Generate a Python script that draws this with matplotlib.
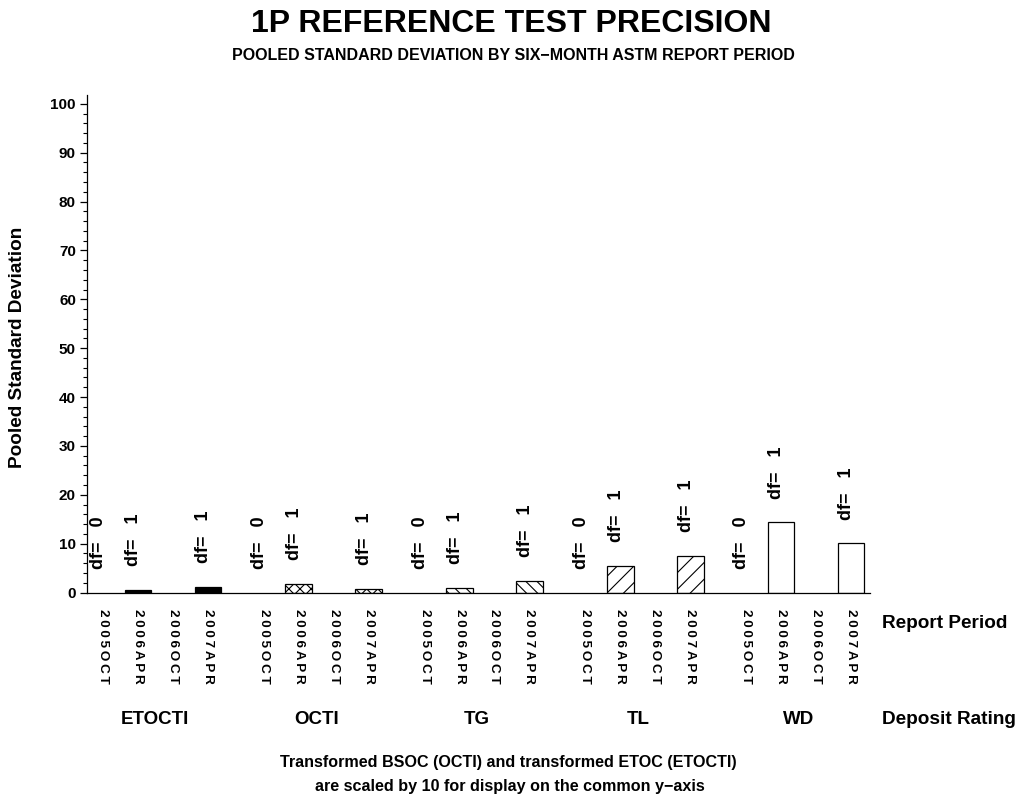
import numpy as np
import matplotlib
matplotlib.use("Agg")
import matplotlib.pyplot as plt
from matplotlib.ticker import MultipleLocator
import matplotlib.transforms as mtransforms

plt.rcParams['font.family'] = ['Liberation Sans', 'DejaVu Sans']
plt.rcParams['hatch.linewidth'] = 0.8

groups = ['ETOCTI', 'OCTI', 'TG', 'TL', 'WD']
periods = ['2005OCT', '2006APR', '2006OCT', '2007APR']
nan = np.nan
values = {
    'ETOCTI': [nan, 0.6, nan, 1.2],
    'OCTI':   [nan, 1.8, nan, 0.7],
    'TG':     [nan, 0.9, nan, 2.4],
    'TL':     [nan, 5.4, nan, 7.5],
    'WD':     [nan, 14.4, nan, 10.1],
}
dfs = {
    'ETOCTI': [0, 1, None, 1],
    'OCTI':   [0, 1, None, 1],
    'TG':     [0, 1, None, 1],
    'TL':     [0, 1, None, 1],
    'WD':     [0, 1, None, 1],
}
hatches = {'ETOCTI': None, 'OCTI': 'xxx', 'TG': '\\\\\\', 'TL': '//', 'WD': None}
faces = {'ETOCTI': 'black', 'OCTI': 'white', 'TG': 'white', 'TL': 'white', 'WD': 'white'}

W, H = 1023, 797
fig = plt.figure(figsize=(W / 100, H / 100), dpi=100)
ax = fig.add_axes([87 / W, 1 - 592.5 / H, (870 - 87) / W, (592.5 - 95) / H])

G = 4.6
tick_pos, tick_lab = [], []
for j, g in enumerate(groups):
    for i, p in enumerate(periods):
        x = j * G + i
        tick_pos.append(x)
        tick_lab.append('\u2009'.join(p))
        v = values[g][i]
        h = 0 if np.isnan(v) else v
        if not np.isnan(v):
            ax.bar(x, v, width=0.76, color=faces[g], edgecolor='black',
                   linewidth=0.9, hatch=hatches[g], zorder=2)
        d = dfs[g][i]
        if d is not None:
            ax.annotate(f'df=   {d}', xy=(x, h), xytext=(-3, 17),
                        textcoords='offset points', rotation=90,
                        ha='center', va='bottom', fontsize=13,
                        fontweight='bold')

ax.set_xlim(-0.457, 3 + 4 * G + 0.543)
ax.set_ylim(0, 101.8)
ax.yaxis.set_major_locator(MultipleLocator(10))
ax.yaxis.set_minor_locator(MultipleLocator(2))
ax.set_yticks(np.arange(0, 101, 10))
ax.tick_params(axis='y', which='major', length=5, width=0.9, pad=3,
               labelsize=11)
ax.tick_params(axis='y', which='minor', length=3, width=0.8)
for lab in ax.get_yticklabels():
    lab.set_fontweight('bold')
ax.set_xticks(tick_pos)
ax.set_xticklabels(tick_lab, rotation=270, fontsize=9.7, fontweight='bold',
                   va='top', ha='center')
ax.tick_params(axis='x', length=0, pad=12)
for s in ['top', 'right']:
    ax.spines[s].set_visible(False)
ax.spines['left'].set_linewidth(0.9)
ax.spines['bottom'].set_linewidth(0.9)

trans = mtransforms.blended_transform_factory(ax.transData, fig.transFigure)
for j, g in enumerate(groups):
    ax.text(j * G + 1.5, 1 - 720 / H, g, transform=trans, ha='center',
            va='center', fontsize=13.5, fontweight='bold')

fig.text(882 / W, 1 - 623 / H, 'Report Period', ha='left', va='center',
         fontsize=13.7, fontweight='bold')
fig.text(882 / W, 1 - 720 / H, 'Deposit Rating', ha='left', va='center',
         fontsize=13.7, fontweight='bold')
fig.text(18 / W, 1 - 347 / H, 'Pooled Standard Deviation', rotation=90,
         ha='center', va='center', fontsize=13.7, fontweight='bold')

fig.text(511 / W, 1 - 24 / H, '1P REFERENCE TEST PRECISION', ha='center',
         va='center', fontsize=23, fontweight='bold')
fig.text(513 / W, 1 - 56 / H,
         'POOLED STANDARD DEVIATION BY SIX\u2212MONTH ASTM REPORT PERIOD',
         ha='center', va='center', fontsize=11.5, fontweight='bold')
fig.text(508 / W, 1 - 763 / H,
         'Transformed BSOC (OCTI) and transformed ETOC (ETOCTI)',
         ha='center', va='center', fontsize=11.6, fontweight='bold')
fig.text(510 / W, 1 - 787 / H,
         'are scaled by 10 for display on the common y\u2212axis',
         ha='center', va='center', fontsize=11.6, fontweight='bold')

fig.savefig('out.png', dpi=100)
